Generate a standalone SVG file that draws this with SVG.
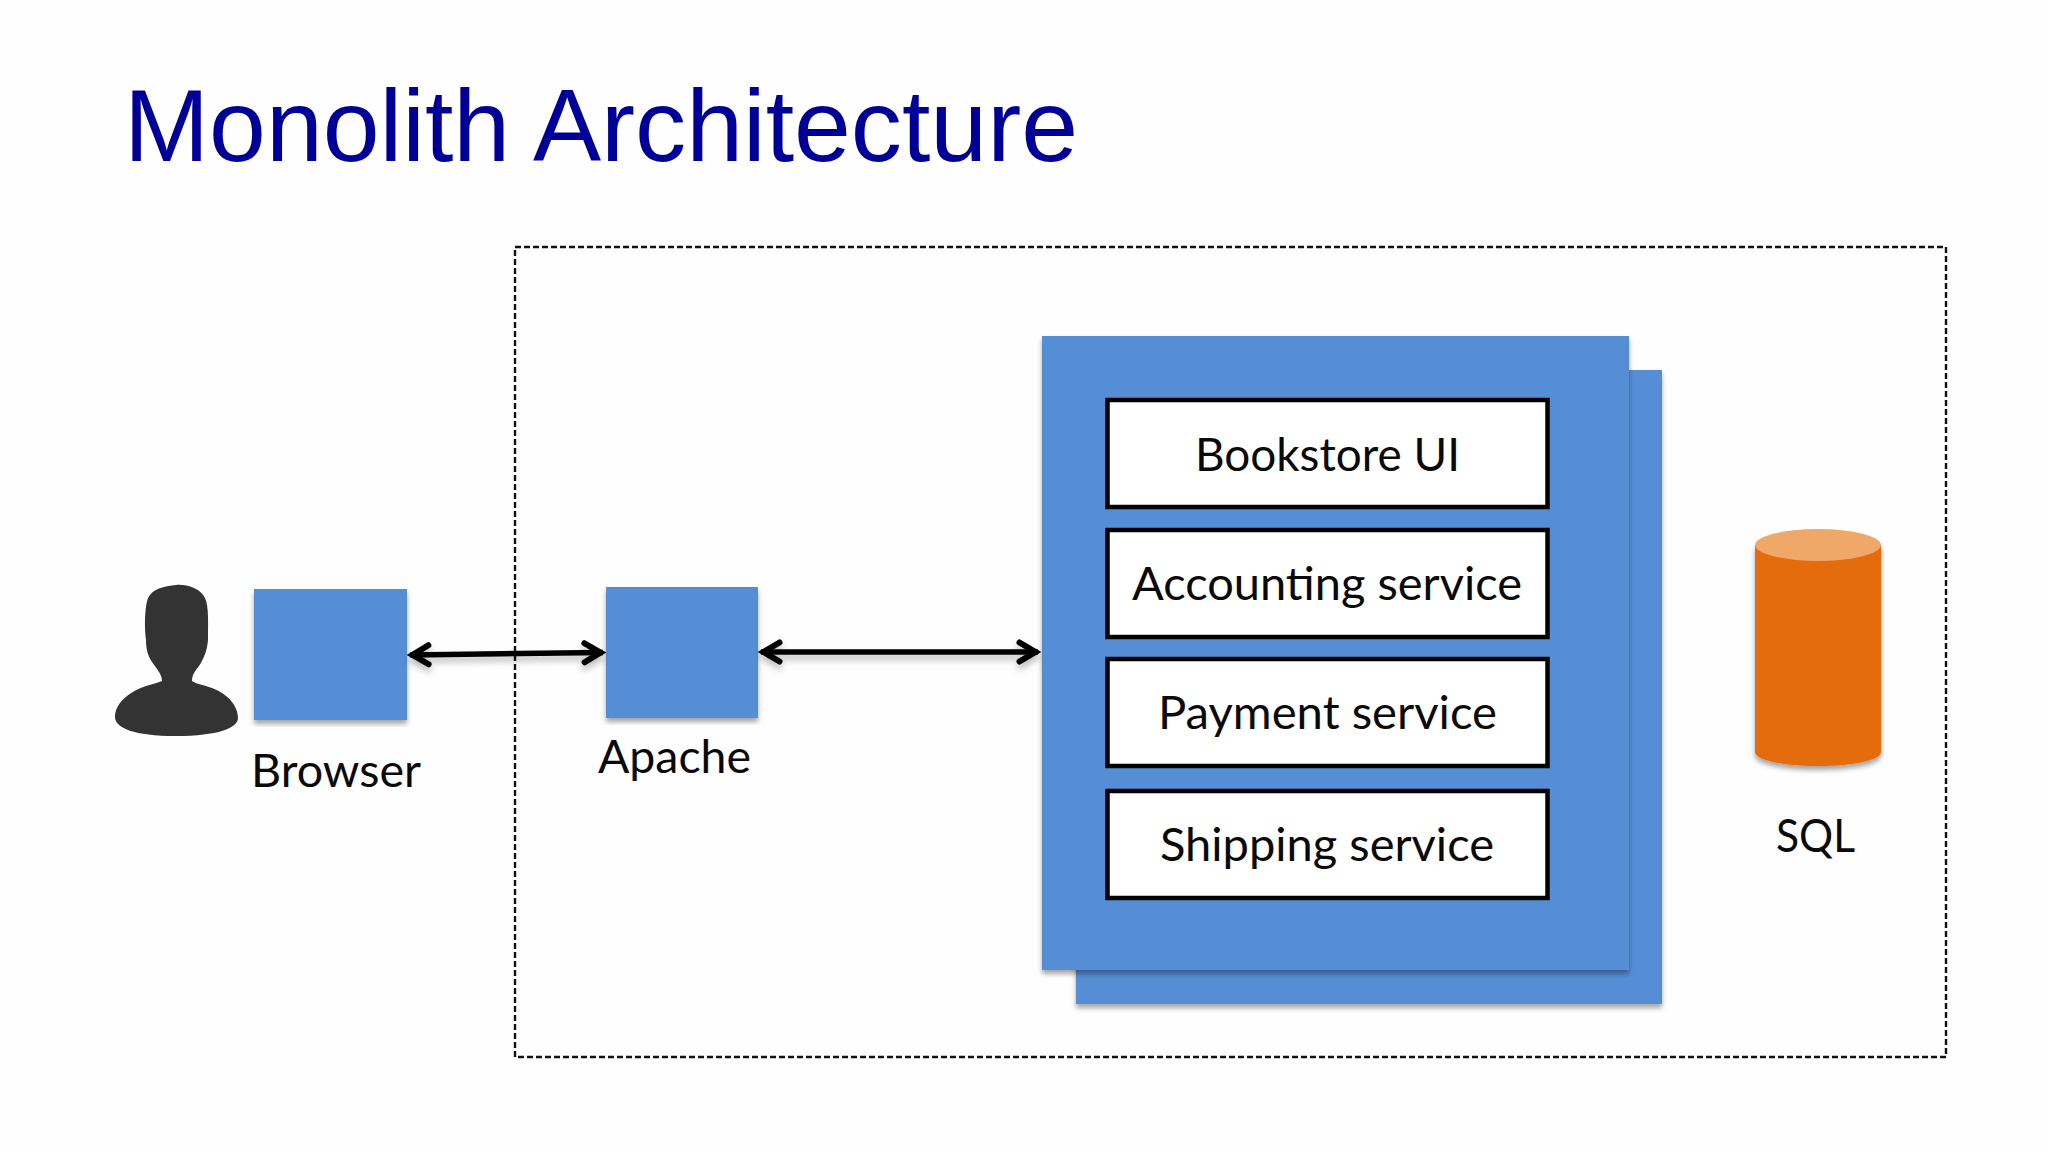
<svg xmlns="http://www.w3.org/2000/svg" width="2048" height="1152" viewBox="0 0 2048 1152">
<defs>
<style>
.lbl{font-family:"Lato","Carlito","Liberation Sans",sans-serif;font-size:46px;fill:#0a0a0a;text-anchor:start}
.blue{fill:#558ed5;filter:url(#sh)}
.box{fill:#fff;stroke:#000;stroke-width:4.5}
.conn{fill:none;stroke:#000;stroke-width:5.5;marker-start:url(#ah);marker-end:url(#ah);filter:url(#sh2)}
</style>
<filter id="sh" x="-5%" y="-5%" width="110%" height="110%"><feDropShadow dx="0" dy="4" stdDeviation="2.5" flood-color="#000" flood-opacity=".35"/></filter>
<filter id="sh2" filterUnits="userSpaceOnUse" x="380" y="610" width="700" height="90"><feDropShadow dx="0" dy="5" stdDeviation="3" flood-color="#000" flood-opacity=".25"/></filter>
<marker id="ah" viewBox="0 0 40 40" refX="32.5" refY="20" markerUnits="userSpaceOnUse" markerWidth="40" markerHeight="40" orient="auto-start-reverse">
<path d="M14 10.5 L30 20 L14 29.5" fill="none" stroke="#000" stroke-width="6" stroke-linecap="round" stroke-linejoin="miter"/>
</marker>
</defs>
<rect width="2048" height="1152" fill="#fefefe"/>
<text id="title" x="124" y="161" font-family="Liberation Sans, Arial, sans-serif" font-size="102" fill="#000099" textLength="954" lengthAdjust="spacingAndGlyphs">Monolith Architecture</text>
<rect id="boundary" x="515" y="247" width="1431" height="810" fill="none" stroke="#111" stroke-width="2.4" stroke-dasharray="6 3"/>
<g id="person">
<path fill="#333" d="M176 585 C186 584 200 588 205 598 C209 606 208 625 208 640 C207 652 203 660 199 666 C196 670 192 674 192 681 C196 684 204 685 212 688 C228 694 238 706 238 718 C238 728 218 736 176 736 C134 736 115 728 115 717 C115 704 128 692 146 686 C152 684 158 683 162 681 C162 674 156 668 152 662 C148 656 146 650 146 640 C144 625 145 606 148 598 C152 589 164 586 176 585 Z"/>
</g>
<g id="browser">
<rect class="blue" x="254" y="589" width="153" height="131"/>
<text class="lbl" x="251" y="787" textLength="170" lengthAdjust="spacingAndGlyphs">Browser</text>
</g>
<g id="apache">
<rect class="blue" x="606" y="587" width="152" height="131"/>
<text class="lbl" x="598" y="773" textLength="153" lengthAdjust="spacingAndGlyphs">Apache</text>
</g>
<g id="server-back"><rect class="blue" x="1076" y="370" width="586" height="634"/></g>
<g id="server-front"><rect class="blue" x="1042" y="336" width="587" height="634"/></g>
<g id="bookstore-ui">
<rect class="box" x="1107.5" y="400" width="440" height="107"/>
<text class="lbl" x="1195" y="471" textLength="265" lengthAdjust="spacingAndGlyphs">Bookstore UI</text>
</g>
<g id="accounting-service">
<rect class="box" x="1107.5" y="530" width="440" height="107"/>
<text class="lbl" x="1132" y="600" textLength="390" lengthAdjust="spacingAndGlyphs">Accounting service</text>
</g>
<g id="payment-service">
<rect class="box" x="1107.5" y="659" width="440" height="107"/>
<text class="lbl" x="1158" y="729" textLength="339" lengthAdjust="spacingAndGlyphs">Payment service</text>
</g>
<g id="shipping-service">
<rect class="box" x="1107.5" y="791" width="440" height="107"/>
<text class="lbl" x="1160" y="861" textLength="334" lengthAdjust="spacingAndGlyphs">Shipping service</text>
</g>
<g id="sql">
<path d="M1755 545 V752 C1755 760 1782 766 1818 766 C1854 766 1881 760 1881 752 V545 Z" fill="#e46c0a" filter="url(#sh)"/>
<ellipse cx="1818" cy="545" rx="63" ry="16" fill="#f0a868"/>
<text class="lbl" x="1776" y="852" textLength="79" lengthAdjust="spacingAndGlyphs">SQL</text>
</g>
<g id="connectors">
<path class="conn" d="M410 655 L603 652.5"/>
<path class="conn" d="M761 652 H1038"/>
</g>
</svg>
